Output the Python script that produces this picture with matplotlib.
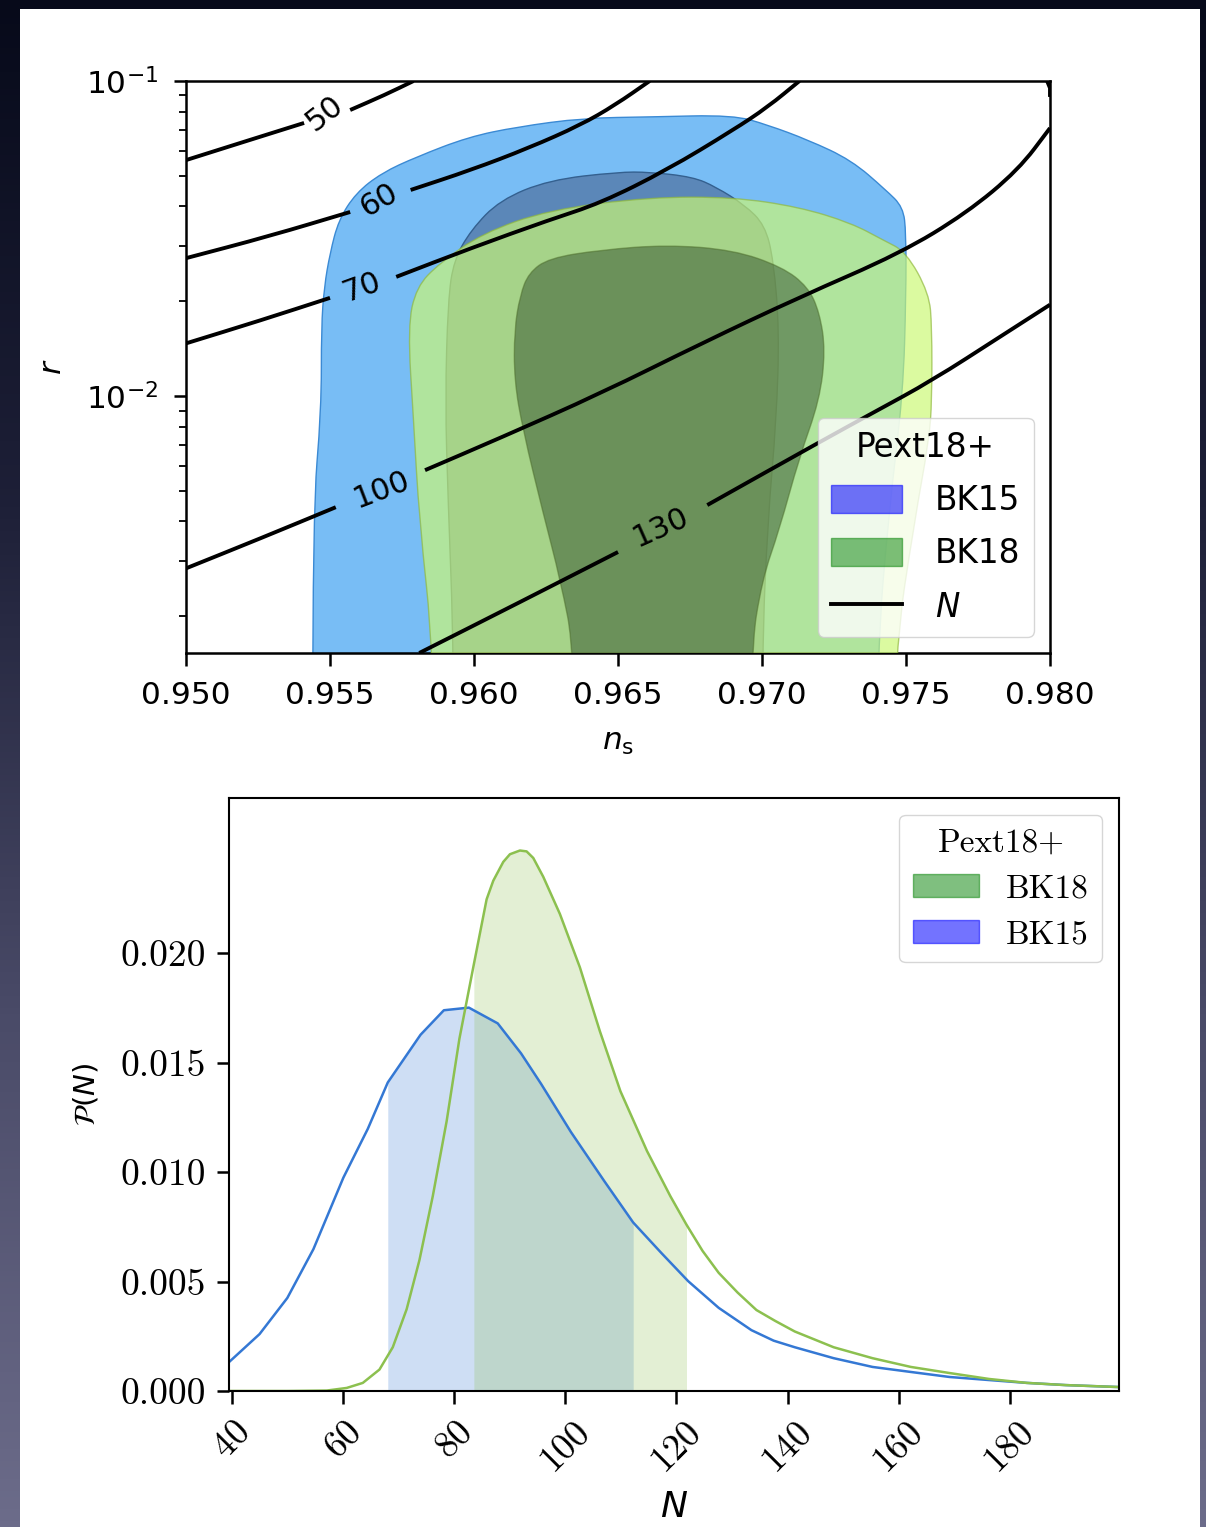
import numpy as np
import matplotlib.pyplot as plt
import matplotlib.patches as mpatches
from matplotlib.lines import Line2D
from matplotlib.path import Path
from matplotlib.colors import LinearSegmentedColormap

# ---------------- top panel: (n_s, r) plane ----------------
# (first/last vertex of each region sits below the plotted r range)
# BK15 95% region
bk15_95_ns = [0.9544, 0.9544, 0.9547, 0.9547, 0.9548, 0.9550, 0.9553, 0.9559, 0.9568,
              0.9580, 0.9598, 0.9615, 0.9638, 0.9661, 0.9690, 0.9702, 0.9716, 0.9731,
              0.9743, 0.9749, 0.9750, 0.9750, 0.9749, 0.9744, 0.9740, 0.9739]
bk15_95_r = [0.0002, 0.00425, 0.00903, 0.0166, 0.0222, 0.0284, 0.0362, 0.0441, 0.0511,
             0.0574, 0.0664, 0.0715, 0.0763, 0.0769, 0.0780, 0.0725, 0.0650, 0.0561,
             0.0451, 0.0398, 0.0329, 0.0212, 0.0102, 0.00425, 0.00153, 0.0002]
# BK15 68% region
bk15_68_ns = [0.9593, 0.9593, 0.9591, 0.9590, 0.9591, 0.9593, 0.9599, 0.9609, 0.9626,
              0.9650, 0.9661, 0.9676, 0.9684, 0.9694, 0.9701, 0.9704, 0.9706, 0.9705,
              0.9702, 0.9700, 0.9700]
bk15_68_r = [0.0002, 0.00153, 0.00468, 0.00971, 0.0202, 0.0270, 0.0337, 0.0419, 0.0485,
             0.0514, 0.0514, 0.0496, 0.0461, 0.0404, 0.0349, 0.0270, 0.0162, 0.00839,
             0.00404, 0.00153, 0.0002]
# BK18 95% region
bk18_95_ns = [0.9587, 0.9586, 0.9581, 0.9579, 0.9577, 0.9580, 0.9588, 0.9603, 0.9626,
              0.9661, 0.9690, 0.9713, 0.9731, 0.9742, 0.9750, 0.9758, 0.9759, 0.9759,
              0.9758, 0.9753, 0.9746, 0.9744]
bk18_95_r = [0.0002, 0.00153, 0.00404, 0.00839, 0.0166, 0.0222, 0.0264, 0.0329, 0.0390,
             0.0428, 0.0428, 0.0398, 0.0354, 0.0313, 0.0287, 0.0212, 0.0166, 0.00971,
             0.00725, 0.00404, 0.00153, 0.0002]
# BK18 68% region
bk18_68_ns = [0.9636, 0.9635, 0.9630, 0.9624, 0.9617, 0.9614, 0.9614, 0.9616, 0.9619,
              0.9626, 0.9644, 0.9667, 0.9690, 0.9707, 0.9716, 0.9720, 0.9722, 0.9720,
              0.9713, 0.9706, 0.9700, 0.9696, 0.9696]
bk18_68_r = [0.0002, 0.00153, 0.00261, 0.00425, 0.00780, 0.0112, 0.0162, 0.0209, 0.0246,
             0.0274, 0.0291, 0.0302, 0.0291, 0.0257, 0.0222, 0.0184, 0.0140, 0.00971,
             0.00640, 0.00376, 0.00261, 0.00153, 0.0002]

# N (e-folds) contours, each split around its label
n50_ns = [[0.9500, 0.9521, 0.9541], [0.9557, 0.9569, 0.9579]]
n50_r = [[0.0561, 0.0645, 0.0736], [0.0809, 0.0903, 0.1000]]
n60_ns = [[0.9500, 0.9529, 0.9557], [0.9578, 0.9599, 0.9619, 0.9637, 0.9649, 0.9661]]
n60_r = [[0.0274, 0.0322, 0.0384], [0.0451, 0.0522, 0.0613, 0.0725, 0.0839, 0.1000]]
n70_ns = [[0.9500, 0.9526, 0.9550], [0.9573, 0.9599, 0.9626, 0.9644, 0.9667, 0.9690,
                                     0.9702, 0.9713]]
n70_r = [[0.0147, 0.0174, 0.0205], [0.0239, 0.0295, 0.0362, 0.0410, 0.0522, 0.0699,
                                    0.0827, 0.1000]]
n100_ns = [[0.9500, 0.9526, 0.9552], [0.9583, 0.9609, 0.9644, 0.9679, 0.9713, 0.9748,
                                      0.9771, 0.9789, 0.9800]]
n100_r = [[0.00284, 0.00354, 0.00444], [0.00582, 0.00736, 0.0102, 0.0147, 0.0206, 0.0284,
                                        0.0381, 0.0522, 0.0709]]
n130_ns = [[0.9581, 0.9616, 0.9650], [0.9681, 0.9720, 0.9739, 0.9759, 0.9783, 0.9800]]
n130_r = [[0.00153, 0.00222, 0.00320], [0.00451, 0.00715, 0.00890, 0.0112, 0.0155, 0.0195]]
n_corner_ns = [0.9799, 0.9800, 0.9800]
n_corner_r = [0.1000, 0.0950, 0.0903]

n_levels = ['50', '60', '70', '100', '130']
n_label_ns = [0.9548, 0.9567, 0.9561, 0.9568, 0.9665]
n_label_r = [0.0791, 0.0419, 0.0222, 0.00503, 0.00384]
n_label_rot = [38, 30, 20, 21, 24]

# ---------------- bottom panel: P(N) ----------------
N_bk15 = [39.4, 44.9, 49.9, 54.6, 60.0, 64.4, 68.0, 73.9, 78.1, 82.6, 87.8, 92.0, 95.6,
          101.0, 107.0, 112.2, 117.3, 122.1, 127.6, 133.5, 137.5, 141.3, 148.3, 155.3,
          162.2, 169.2, 176.3, 183.1, 190.1, 199.7]
P_bk15 = [0.00132, 0.0026, 0.00425, 0.00648, 0.00975, 0.01198, 0.0141, 0.01628, 0.0174,
          0.01752, 0.0168, 0.01543, 0.01404, 0.01183, 0.00959, 0.0077, 0.0063, 0.00502,
          0.0038, 0.00278, 0.0023, 0.002, 0.0015, 0.0011, 0.00087, 0.00064, 0.0005,
          0.00037, 0.00027, 0.00018]
N_bk18 = [39.4, 50.0, 57.0, 60.6, 63.5, 66.5, 68.9, 71.4, 73.7, 76.1, 78.6, 80.9, 83.5,
          85.8, 87.0, 88.8, 90.0, 91.8, 93.0, 94.2, 96.0, 99.0, 102.6, 106.2, 109.9,
          114.7, 118.9, 121.8, 124.7, 127.6, 131.0, 134.4, 137.8, 141.3, 148.3, 155.3,
          162.2, 169.2, 176.3, 183.1, 190.1, 199.7]
P_bk18 = [0.0, 0.0, 0.00002, 0.00014, 0.00037, 0.00098, 0.002, 0.00374, 0.00598, 0.0089,
          0.01233, 0.0161, 0.0195, 0.02247, 0.02332, 0.02418, 0.02453, 0.0247, 0.02466,
          0.02436, 0.0235, 0.0218, 0.01936, 0.01644, 0.0137, 0.01096, 0.0089, 0.0076,
          0.0064, 0.0054, 0.0045, 0.0037, 0.0032, 0.00272, 0.002, 0.0015, 0.0011,
          0.00082, 0.00055, 0.00037, 0.00027, 0.00018]
bk15_interval = [68.0, 112.2]
bk18_interval = [83.5, 121.8]


def smooth_path(xs, ys, closed):
    # quadratic B-spline through the read vertices (midpoints taken in log r)
    lx = np.asarray(xs, float)
    ly = np.log10(np.asarray(ys, float))
    mx = (lx[:-1] + lx[1:]) / 2
    my = (ly[:-1] + ly[1:]) / 2
    if closed:
        mx = np.append(mx, (lx[-1] + lx[0]) / 2)
        my = np.append(my, (ly[-1] + ly[0]) / 2)
        verts = [(mx[-1], my[-1])]
        codes = [Path.MOVETO]
        for i in range(len(lx)):
            verts += [(lx[i], ly[i]), (mx[i], my[i])]
            codes += [Path.CURVE3, Path.CURVE3]
    else:
        verts = [(lx[0], ly[0]), (mx[0], my[0])]
        codes = [Path.MOVETO, Path.LINETO]
        for i in range(1, len(lx) - 1):
            verts += [(lx[i], ly[i]), (mx[i], my[i])]
            codes += [Path.CURVE3, Path.CURVE3]
        verts.append((lx[-1], ly[-1]))
        codes.append(Path.LINETO)
    v = np.array(verts)
    v[:, 1] = 10 ** v[:, 1]
    return Path(v, codes)


W, H = 1206, 1527
fig = plt.figure(figsize=(W / 100, H / 100), dpi=100)

# slide background + white card
bg = fig.add_axes([0, 0, 1, 1], zorder=-10)
cmap = LinearSegmentedColormap.from_list('bg', ['#070a1a', '#1e2038', '#4a4b68', '#6c6c8a'])
bg.imshow(np.linspace(0, 1, 256)[:, None], aspect='auto', cmap=cmap, extent=[0, 1, 0, 1])
bg.add_patch(mpatches.Rectangle((20 / W, 0), 1180 / W, 1 - 9 / H, transform=bg.transAxes,
                                facecolor='white', edgecolor='none'))
bg.set_xlim(0, 1)
bg.set_ylim(0, 1)
bg.axis('off')

# ---------------- top ----------------
ax1 = fig.add_axes([186 / W, 1 - 653 / H, 864 / W, 572 / H])
ax1.set_yscale('log')
ax1.set_xlim(0.950, 0.980)
ax1.set_ylim(0.00153, 0.1)

regions = [(bk15_95_ns, bk15_95_r, dict(facecolor='#78bdf5', edgecolor='#3b8ad4')),
           (bk15_68_ns, bk15_68_r, dict(facecolor='#5b87b8', edgecolor='#34608f')),
           (bk18_95_ns, bk18_95_r, dict(facecolor='#cbf873', alpha=0.68, edgecolor='#8fb83c')),
           (bk18_68_ns, bk18_68_r, dict(facecolor='#32502d', alpha=0.5, edgecolor='#4a6a28'))]
for z, (xs, ys, style) in enumerate(regions):
    ax1.add_patch(mpatches.PathPatch(smooth_path(xs, ys, True), lw=1.0, zorder=1 + z, **style))

for xs_list, ys_list in [(n50_ns, n50_r), (n60_ns, n60_r), (n70_ns, n70_r),
                         (n100_ns, n100_r), (n130_ns, n130_r)]:
    for xs, ys in zip(xs_list, ys_list):
        ax1.add_patch(mpatches.PathPatch(smooth_path(xs, ys, False), fill=False,
                                         edgecolor='black', lw=2.8, zorder=5))
ax1.plot(n_corner_ns, n_corner_r, color='black', lw=2.8, zorder=5)
for lab, x, y, rot in zip(n_levels, n_label_ns, n_label_r, n_label_rot):
    ax1.text(x, y, lab, fontsize=22, rotation=rot, ha='center', va='center',
             rotation_mode='anchor', zorder=6)

ax1.set_xticks([0.950, 0.955, 0.960, 0.965, 0.970, 0.975, 0.980])
ax1.set_xticklabels(['0.950', '0.955', '0.960', '0.965', '0.970', '0.975', '0.980'])
ax1.tick_params(which='major', length=9, width=1.8, labelsize=22.5, pad=11)
ax1.tick_params(which='minor', length=5, width=1.3)
for sp in ax1.spines.values():
    sp.set_linewidth(1.8)
ax1.set_xlabel('$n_{\\rm s}$', fontsize=22.5, labelpad=13)
ax1.set_ylabel('$r$', fontsize=22.5, labelpad=14)

handles1 = [mpatches.Patch(facecolor='blue', alpha=0.55, edgecolor='blue'),
            mpatches.Patch(facecolor='green', alpha=0.5, edgecolor='green'),
            Line2D([], [], color='black', lw=2.8)]
ax1.legend(handles1, ['BK15', 'BK18', '$N$'], title='Pext18+', loc='lower right',
           fontsize=23.5, title_fontsize=23.5, handlelength=2.2, handleheight=0.95,
           labelspacing=0.62, handletextpad=1.0)

# ---------------- bottom ----------------
ax2 = fig.add_axes([229 / W, 1 - 1391 / H, 890 / W, 593 / H])
N15 = np.array(N_bk15)
N18 = np.array(N_bk18)
blue_c = '#3478d4'
green_c = '#8cc04f'
ax2.fill_between(N15, P_bk15, where=(N15 >= bk15_interval[0]) & (N15 <= bk15_interval[1]),
                 color=blue_c, alpha=0.24, lw=0)
ax2.fill_between(N18, P_bk18, where=(N18 >= bk18_interval[0]) & (N18 <= bk18_interval[1]),
                 color=green_c, alpha=0.24, lw=0)
ax2.plot(N15, P_bk15, color=blue_c, lw=1.8)
ax2.plot(N18, P_bk18, color=green_c, lw=1.8)

ax2.set_xlim(39.4, 199.7)
ax2.set_ylim(0, 0.0271)
ax2.set_xticks([40, 60, 80, 100, 120, 140, 160, 180])
ax2.set_xticklabels(['40', '60', '80', '100', '120', '140', '160', '180'],
                    rotation=45, fontfamily='cmr10', fontsize=26.5)
ax2.set_yticks([0, 0.005, 0.010, 0.015, 0.020])
ax2.set_yticklabels(['0.000', '0.005', '0.010', '0.015', '0.020'],
                    fontfamily='cmr10', fontsize=27)
ax2.tick_params(length=9, width=1.8, pad=8)
for sp in ax2.spines.values():
    sp.set_linewidth(1.5)
ax2.set_xlabel('$N$', fontsize=26, labelpad=9)
ax2.set_ylabel('$\\mathcal{P}(N)$', fontsize=21, labelpad=14)

handles2 = [mpatches.Patch(facecolor='green', alpha=0.5, edgecolor='green'),
            mpatches.Patch(facecolor='blue', alpha=0.55, edgecolor='blue')]
ax2.legend(handles2, ['BK18', 'BK15'], title='Pext18+', loc='upper right',
           prop={'family': 'cmr10', 'size': 24},
           title_fontproperties={'family': 'cmr10', 'size': 24})

fig.savefig('out.png', dpi=100)
